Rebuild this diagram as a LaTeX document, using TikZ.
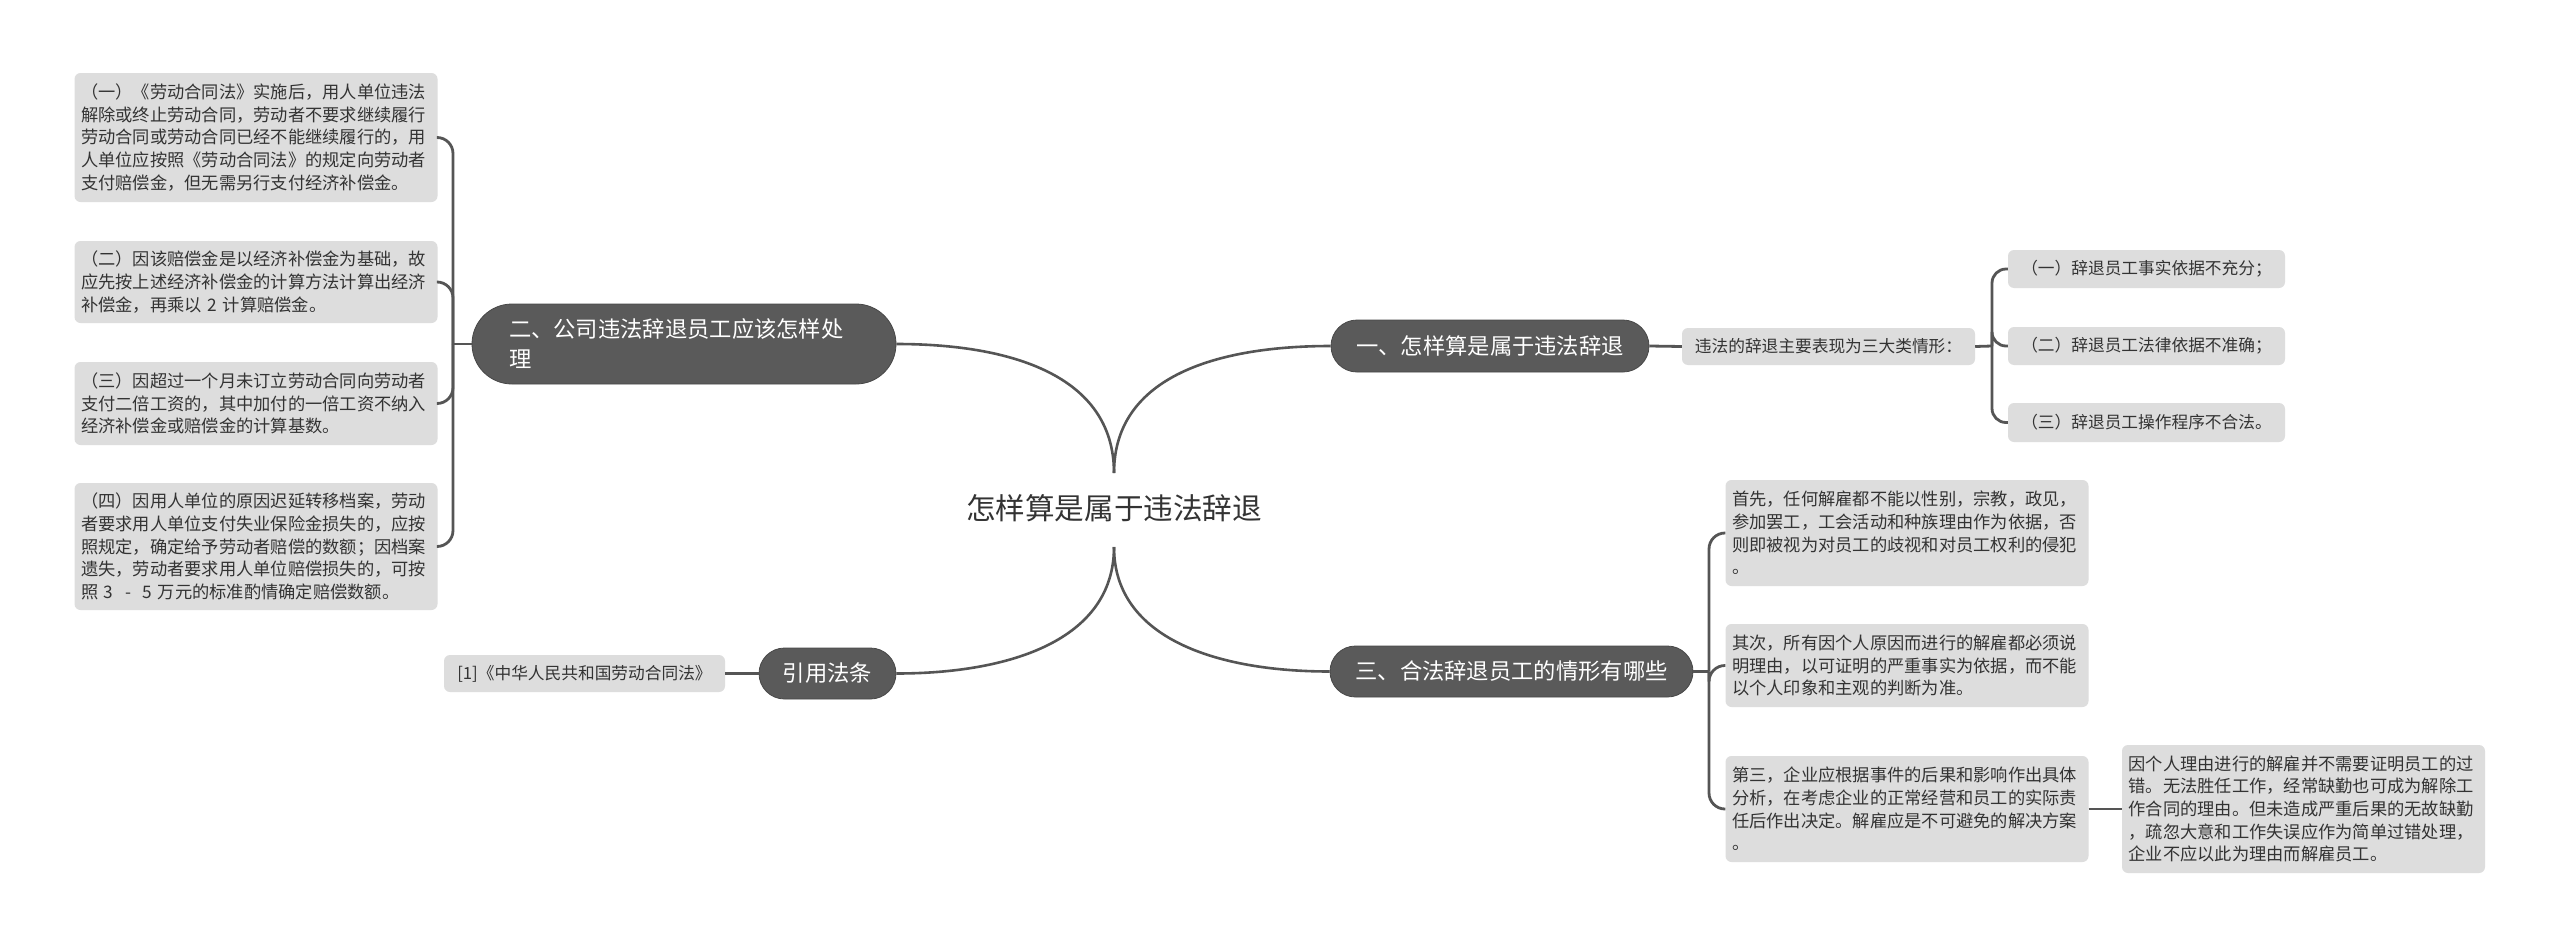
\documentclass[tikz,border=0pt]{standalone}
\usepackage{fontspec}
\setmainfont{Noto Sans CJK SC}
\definecolor{linec}{HTML}{555555}
\definecolor{darkc}{HTML}{5A5A5A}
\definecolor{boxc}{HTML}{DDDDDD}
\definecolor{txtc}{HTML}{333333}
\tikzset{
  conn/.style={draw=linec, line width=2.8pt},
  mainc/.style={draw=linec, line width=2.6pt},
  topic/.style={fill=darkc, draw=darkc!80!black, line width=0.8pt, text=white,
    font={\fontsize{22.3pt}{30pt}\selectfont}, inner xsep=8pt, inner ysep=0pt},
  leaf/.style={fill=boxc, text=txtc, rounded corners=6pt, align=left,
    text width=350pt, inner xsep=6.5pt, inner ysep=0pt,
    font={\fontsize{17.25pt}{22.7pt}\selectfont}},
  small/.style={fill=boxc, text=txtc, rounded corners=6pt, inner xsep=4pt, inner ysep=0pt,
    font={\fontsize{16.7pt}{20pt}\selectfont}},
}
\begin{document}
\begin{tikzpicture}[x=1pt,y=-1pt]
\useasboundingbox (0,0) rectangle (2560,948);
\fill[white] (0,0) rectangle (2560,948);

% central
\node[text=txtc, font={\fontsize{29.6pt}{34pt}\selectfont}, inner sep=0pt] (c) at (1114,508) {怎样算是属于违法辞退};
\coordinate (jt) at (1114,473);
\coordinate (jb) at (1114,547);

% level 1
\node[topic, minimum width=424pt, minimum height=80pt, rounded corners=40pt,
      text width=350pt, align=left, inner xsep=37pt] (t2) at (684,344)
      {二、公司违法辞退员工应该怎样处\\理};
\node[topic, minimum width=318pt, minimum height=52pt, rounded corners=26pt] (t1) at (1490,346) {一、怎样算是属于违法辞退};
\node[topic, minimum width=363pt, minimum height=51pt, rounded corners=25.5pt] (t3) at (1511.5,671.5) {三、合法辞退员工的情形有哪些};
\node[topic, minimum width=137pt, minimum height=51pt, rounded corners=25.5pt] (tc) at (827.5,673.5) {引用法条};

% left leaves
\node[leaf, minimum height=129pt] (L1) at (256,137.5) {（一）《劳动合同法》实施后，用人单位违法\\解除或终止劳动合同，劳动者不要求继续履行\\劳动合同或劳动合同已经不能继续履行的，用\\人单位应按照《劳动合同法》的规定向劳动者\\支付赔偿金，但无需另行支付经济补偿金。};
\node[leaf, minimum height=82pt] (L2) at (256,282) {（二）因该赔偿金是以经济补偿金为基础，故\\应先按上述经济补偿金的计算方法计算出经济\\补偿金，再乘以 2 计算赔偿金。};
\node[leaf, minimum height=83pt] (L3) at (256,403.5) {（三）因超过一个月未订立劳动合同向劳动者\\支付二倍工资的，其中加付的一倍工资不纳入\\经济补偿金或赔偿金的计算基数。};
\node[leaf, minimum height=127pt] (L4) at (256,546.5) {（四）因用人单位的原因迟延转移档案，劳动\\者要求用人单位支付失业保险金损失的，应按\\照规定，确定给予劳动者赔偿的数额；因档案\\遗失，劳动者要求用人单位赔偿损失的，可按\\照 3 \ - \ 5 万元的标准酌情确定赔偿数额。};

% citation leaf
\node[small, minimum width=281pt, minimum height=37pt] (cite) at (584.5,673.5) {[1]《中华人民共和国劳动合同法》};

% right top
\node[small, minimum width=293pt, minimum height=37pt] (w) at (1828.5,346.5) {违法的辞退主要表现为三大类情形：};
\node[small, minimum width=277pt, minimum height=38pt] (r1) at (2146.5,269) {（一）辞退员工事实依据不充分；};
\node[small, minimum width=277pt, minimum height=38pt] (r2) at (2146.5,346) {（二）辞退员工法律依据不准确；};
\node[small, minimum width=277pt, minimum height=39pt] (r3) at (2146.5,422.5) {（三）辞退员工操作程序不合法。};

% right bottom
\node[leaf, minimum height=106pt] (A) at (1907,533) {首先，任何解雇都不能以性别，宗教，政见，\\参加罢工，工会活动和种族理由作为依据，否\\则即被视为对员工的歧视和对员工权利的侵犯\\。};
\node[leaf, minimum height=83pt] (B) at (1907,665.5) {其次，所有因个人原因而进行的解雇都必须说\\明理由，以可证明的严重事实为依据，而不能\\以个人印象和主观的判断为准。};
\node[leaf, minimum height=106pt] (C) at (1907,809) {第三，企业应根据事件的后果和影响作出具体\\分析，在考虑企业的正常经营和员工的实际责\\任后作出决定。解雇应是不可避免的解决方案\\。};
\node[leaf, minimum height=128pt] (D) at (2303.5,809) {因个人理由进行的解雇并不需要证明员工的过\\错。无法胜任工作，经常缺勤也可成为解除工\\作合同的理由。但未造成严重后果的无故缺勤\\，疏忽大意和工作失误应作为简单过错处理，\\企业不应以此为理由而解雇员工。};

% junctions
\coordinate (j2) at (453,344);
\coordinate (j1) at (1992,346);
\coordinate (j3) at (1709,671.5);

% main curves
\draw[mainc] (jt) .. controls (1114,375) and (1010,344) .. (t2.east);
\draw[mainc] (jt) .. controls (1114,375) and (1220,346) .. (t1.west);
\draw[mainc] (jb) .. controls (1114,640) and (1010,673.5) .. (tc.east);
\draw[mainc] (jb) .. controls (1114,640) and (1220,671.5) .. (t3.west);

% left bracket
\draw[conn] (t2.west) -- (j2);
\foreach \b in {L1,L2,L3,L4} \draw[conn, rounded corners=16pt] (j2) |- (\b.east);

% citation
\draw[conn] (tc.west) -- (cite.east);

% right top
\draw[conn] (t1.east) -- (w.west);
\draw[conn] (w.east) -- (j1);
\foreach \b in {r1,r2,r3} \draw[conn, rounded corners=14pt] (j1) |- (\b.west);

% right bottom
\draw[conn] (t3.east) -- (j3);
\foreach \b in {A,B,C} \draw[conn, rounded corners=16pt] (j3) |- (\b.west);
\draw[conn] (C.east) -- (D.west);
\end{tikzpicture}
\end{document}
